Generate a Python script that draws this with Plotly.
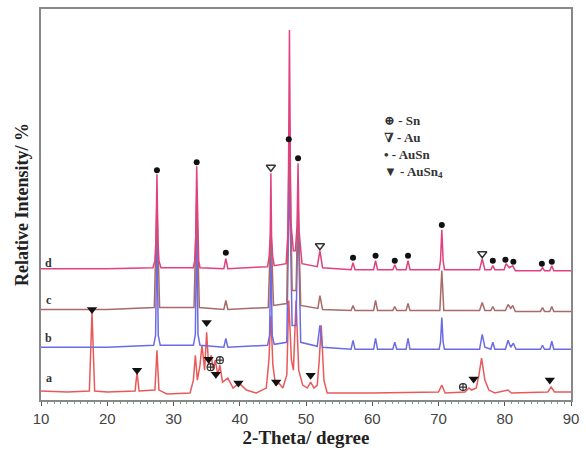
import plotly.graph_objects as go

# ---- data (2-theta in degrees, intensity in arbitrary offset units) ----
d_x = [10, 20, 26.9, 27.2, 27.35, 27.5, 27.65, 27.8, 28.1, 33.0, 33.2, 33.35, 33.5, 33.65, 33.8, 34.0,
       37.6, 37.9, 38.2,
       44.2, 44.45, 44.6, 44.7, 44.8, 44.95, 45.2, 47.0, 47.3, 47.5, 47.7, 48.1, 48.4, 48.65, 48.8,
       48.95, 49.4,
       51.7, 52.1, 52.5, 56.8, 57.1, 57.4, 60.2, 60.5, 60.8, 63.1, 63.4, 63.7, 65.1, 65.4, 65.7,
       70.1, 70.3, 70.5, 70.7, 70.9, 76.2, 76.6, 77.0, 77.9, 78.2, 78.5, 79.9, 80.2, 80.7, 81.2,
       81.6, 85.4, 85.7, 86.0, 86.8, 87.1, 87.4, 90]
d_y = [132, 132, 133, 140, 160, 227, 160, 140, 133, 133, 140, 162, 235, 162, 140, 133,
       132, 142, 132,
       134, 145, 165, 228, 165, 145, 135, 137, 170, 372, 180, 150, 150, 175, 238, 170,
       137,
       134, 150, 133, 131, 138, 131, 131, 140, 131, 131, 136, 131, 131, 140, 131,
       131, 140, 171, 140, 131, 131, 142, 131, 131, 135, 131, 131, 137, 133, 135,
       130, 130, 133, 130, 130, 135, 130, 130]

c_x = [10, 20, 27.1, 27.5, 27.9, 33.1, 33.5, 33.9, 37.6, 37.9, 38.2, 44.3, 44.7, 45.1,
       47.1, 47.5, 47.9, 48.5, 48.8, 49.2, 51.8, 52.1, 52.5, 56.8, 57.1, 57.4, 60.2, 60.5, 60.8,
       63.1, 63.4, 63.7, 65.1, 65.4, 65.7, 70.2, 70.5, 70.8, 76.2, 76.6, 77.0, 77.9, 78.2, 78.5,
       80.1, 80.5, 80.9, 81.2, 81.6, 85.4, 85.7, 86.0, 86.8, 87.1, 87.4, 90]
c_y = [91, 91, 93, 200, 93, 93, 205, 93, 91, 100, 91, 93, 175, 95, 97, 280, 110, 110, 200, 95,
       92, 105, 91, 90, 95, 90, 90, 100, 90, 90, 94, 90, 90, 97, 90, 90, 130, 90, 90, 98, 90,
       90, 94, 90, 90, 96, 92, 95, 89, 89, 93, 89, 89, 94, 89, 89]

b_x = [10, 20, 27.0, 27.3, 27.5, 27.7, 28.0, 33.0, 33.3, 33.5, 33.7, 34.0, 37.6, 37.9, 38.2,
       44.2, 44.5, 44.7, 44.9, 45.2, 47.1, 47.5, 47.9, 48.5, 48.8, 49.2, 51.7, 52.1, 52.5,
       56.8, 57.1, 57.4, 60.2, 60.5, 60.8, 63.1, 63.4, 63.7, 65.1, 65.4, 65.7, 70.1, 70.3, 70.5,
       70.7, 70.9, 76.2, 76.6, 77.0, 77.9, 78.2, 78.5, 80.1, 80.5, 80.9, 81.3, 81.7, 85.4, 85.7,
       86.0, 86.8, 87.1, 87.4, 90]
b_y = [53, 53, 55, 65, 175, 65, 55, 55, 66, 180, 66, 55, 53, 62, 53, 55, 65, 150, 65, 56,
       58, 230, 75, 75, 190, 58, 54, 75, 53, 51, 60, 51, 51, 62, 51, 51, 58, 51, 51, 62, 51,
       51, 58, 83, 58, 51, 51, 66, 53, 51, 58, 51, 51, 60, 53, 57, 51, 51, 55, 51, 51, 59, 51, 51]

a_x = [10, 14, 17.3, 17.7, 18.1, 20, 24.2, 24.5, 24.8, 27.2, 27.5, 27.8, 29, 32.5, 33.0, 33.3,
       33.6, 34.0, 34.3, 34.7, 35.0, 35.3, 35.7, 36.0, 36.3, 36.7, 37.0, 37.4, 38.2, 39.0, 39.9,
       41.0, 42.5, 44.0, 44.4, 44.7, 45.0, 45.4, 45.9, 46.5, 47.1, 47.4, 47.8, 48.1, 48.5, 48.9,
       49.5, 50.2, 50.7, 51.2, 51.7, 52.0, 52.3, 52.7, 53.2, 60, 70, 70.5, 71.0, 74, 74.6, 75.0,
       75.7, 76.1, 76.5, 77.0, 77.6, 78.5, 80.5, 81, 86.5, 87.0, 87.5, 90]
a_y = [9, 8, 9, 88, 9, 8, 9, 28, 9, 10, 50, 10, 6, 7, 20, 45, 20, 35, 55, 30, 68, 35, 45, 30,
       40, 25, 35, 18, 22, 12, 17, 10, 7, 12, 40, 85, 35, 15, 17, 12, 25, 100, 40, 30, 100, 30,
       15, 12, 18, 12, 15, 40, 75, 20, 7, 7, 8, 15, 7, 8, 12, 10, 12, 25, 42, 20, 10, 7, 10, 7,
       8, 13, 8, 8]

ausn_x = [27.5, 33.5, 37.9, 47.4, 48.8, 57.1, 60.5, 63.4, 65.4, 70.5, 78.2, 80.1, 81.3, 85.6, 87.1]
ausn_y = [231, 239, 148, 262, 243, 143, 145, 140, 145, 176, 140, 141, 139, 137, 139]
au_x = [44.7, 52.1, 76.6]
au_y = [234, 155, 147]
ausn4_x = [17.7, 24.5, 35.0, 35.3, 36.4, 39.8, 45.5, 50.7, 75.3, 86.8]
ausn4_y = [91, 30, 78, 41, 26, 17, 18, 25, 21, 20]
sn_x = [35.6, 37.0, 73.7]
sn_y = [33, 40, 13]

series_names = ["a", "b", "c", "d"]
series_label_y = [22, 62, 101, 138]

colors = {"a": "#e85a5a", "b": "#6b6be6", "c": "#a86a6a", "d": "#e2407f"}
series = {"a": (a_x, a_y), "b": (b_x, b_y), "c": (c_x, c_y), "d": (d_x, d_y)}

fig = go.Figure()
for name in series_names:
    xs, ys = series[name]
    fig.add_trace(go.Scatter(x=xs, y=ys, mode="lines",
                             line=dict(color=colors[name], width=1.5),
                             showlegend=False, hoverinfo="skip"))

fig.add_trace(go.Scatter(x=ausn_x, y=ausn_y, mode="markers",
                         marker=dict(symbol="circle", size=6, color="#111"), showlegend=False))
fig.add_trace(go.Scatter(x=au_x, y=au_y, mode="markers",
                         marker=dict(symbol="triangle-down-open", size=8, color="#333",
                                     line=dict(width=1.5)), showlegend=False))
fig.add_trace(go.Scatter(x=ausn4_x, y=ausn4_y, mode="markers",
                         marker=dict(symbol="triangle-down", size=9, color="#111"), showlegend=False))
fig.add_trace(go.Scatter(x=sn_x, y=sn_y, mode="markers",
                         marker=dict(symbol="circle-cross-open", size=7, color="#333",
                                     line=dict(width=1.2)), showlegend=False))

serif = "Liberation Serif, DejaVu Serif, serif"
for name, yv in zip(series_names, series_label_y):
    fig.add_annotation(x=11.2, y=yv, text=f"<b>{name}</b>", showarrow=False,
                       xanchor="center", yanchor="middle",
                       font=dict(family=serif, size=12, color="#333"))

fig.add_annotation(xref="paper", yref="paper", x=0.643, y=0.74,
                   text="<b>⊕ - Sn<br>∇ - Au<br>• - AuSn<br>▼ - AuSn<sub>4</sub></b>",
                   showarrow=False, align="left", xanchor="left", yanchor="top",
                   font=dict(family=serif, size=13, color="#333"))

fig.update_xaxes(range=[10, 90], dtick=10, tick0=10, showline=True, mirror=True,
                 linecolor="#888", linewidth=1.5, ticks="outside", ticklen=4,
                 tickcolor="#555", showgrid=False, zeroline=False,
                 minor=dict(ticks="outside", ticklen=2, dtick=1, tickcolor="#6a8"),
                 tickfont=dict(family="Liberation Sans, Arial, sans-serif", size=15, color="#444"),
                 title=dict(text="<b>2-Theta/ degree</b>", standoff=4,
                            font=dict(family=serif, size=19, color="#222")))
fig.update_yaxes(range=[0, 393], showline=True, mirror=True, linecolor="#888", linewidth=1.5,
                 showticklabels=False, ticks="", showgrid=False, zeroline=False,
                 title=dict(text="<b>Relative Intensity/ %</b>", standoff=6,
                            font=dict(family=serif, size=18, color="#222")))

fig.update_layout(width=586, height=458, margin=dict(l=41, r=10, t=7, b=58),
                  paper_bgcolor="white", plot_bgcolor="white")

fig.write_html("out.html")
